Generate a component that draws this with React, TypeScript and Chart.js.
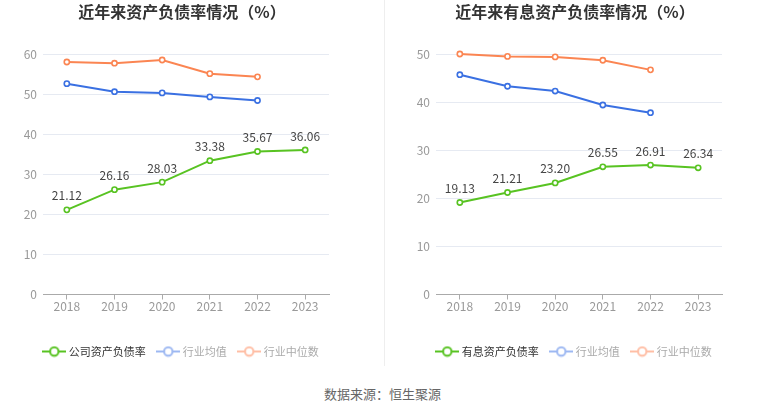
import { useEffect, useRef } from "react";
import { Chart, registerables } from "chart.js";

Chart.register(...registerables);

// 年份
const years = ["2018", "2019", "2020", "2021", "2022", "2023"];

// 左图：资产负债率（%）
const companyDebtRatio = [21.12, 26.16, 28.03, 33.38, 35.67, 36.06];
const debtRatioMean = [52.6, 50.6, 50.3, 49.3, 48.4, null];
const debtRatioMedian = [58.0, 57.7, 58.5, 55.1, 54.3, null];

// 右图：有息资产负债率（%）
const interestDebtRatio = [19.13, 21.21, 23.2, 26.55, 26.91, 26.34];
const interestRatioMean = [45.7, 43.3, 42.3, 39.4, 37.8, null];
const interestRatioMedian = [50.0, 49.5, 49.4, 48.7, 46.7, null];

const FONT = '"Noto Sans CJK SC", "Noto Sans", sans-serif';
const GREEN = "#58c322";
const BLUE = "#3a70e2";
const ORANGE = "#fb8552";

interface Series {
  label: string;
  data: (number | null)[];
  color: string;
  legendColor: string;
  textColor: string;
  showValues?: boolean;
}

// line + hollow circle, like the original legend marks
function legendIcon(color: string) {
  const c = document.createElement("canvas");
  c.width = 24;
  c.height = 12;
  const g = c.getContext("2d")!;
  g.strokeStyle = color;
  g.lineWidth = 2;
  g.beginPath();
  g.moveTo(0, 6);
  g.lineTo(24, 6);
  g.stroke();
  g.beginPath();
  g.arc(12, 6, 4.2, 0, Math.PI * 2);
  g.fillStyle = "#fff";
  g.fill();
  g.stroke();
  return c;
}

const valueLabels = {
  id: "valueLabels",
  afterDatasetsDraw(chart: Chart) {
    const ctx = chart.ctx;
    chart.data.datasets.forEach((ds: any, i) => {
      if (!ds.showValues) return;
      const meta = chart.getDatasetMeta(i);
      ctx.save();
      ctx.font = `12px ${FONT}`;
      ctx.fillStyle = "#444";
      ctx.textAlign = "center";
      ctx.textBaseline = "middle";
      meta.data.forEach((pt, j) => {
        const v = ds.data[j];
        if (v == null) return;
        ctx.fillText(v.toFixed(2), pt.x, pt.y - 14);
      });
      ctx.restore();
    });
  },
};

interface Props {
  title: string;
  series: Series[];
  yMax: number;
  yWidth: number;
  rightGap: number; // empty band right of the plot, so title/legend centre like the original
  left: number;
  width: number;
}

function RatioChart({ title, series, yMax, yWidth, rightGap, left, width }: Props) {
  const ref = useRef<HTMLCanvasElement>(null);

  useEffect(() => {
    if (!ref.current) return;
    const icons = series.map((s) => legendIcon(s.legendColor));
    const chart = new Chart(ref.current, {
      type: "line",
      data: {
        labels: years,
        datasets: series.map((s) => ({
          label: s.label,
          data: s.data,
          borderColor: s.color,
          backgroundColor: "#fff",
          borderWidth: 2,
          pointRadius: 2.6,
          pointBorderWidth: 1.6,
          pointBackgroundColor: "#fff",
          pointBorderColor: s.color,
          tension: 0,
          clip: false,
          showValues: !!s.showValues,
        })) as any,
      },
      options: {
        animation: false,
        responsive: true,
        maintainAspectRatio: false,
        layout: { padding: 0 },
        plugins: {
          title: {
            display: true,
            text: title,
            color: "#333",
            font: { family: FONT, size: 16, weight: "bold", lineHeight: 1.2 },
            padding: { top: 2, bottom: 32.8 },
          },
          legend: {
            position: "bottom",
            labels: {
              usePointStyle: true,
              pointStyleWidth: 18,
              boxHeight: 11,
              padding: 13.5,
              font: { family: FONT, size: 11 },
              generateLabels: () =>
                series.map((s, i) => ({
                  text: s.label,
                  pointStyle: icons[i],
                  fontColor: s.textColor,
                  datasetIndex: i,
                  hidden: false,
                  lineWidth: 0,
                  strokeStyle: "transparent",
                  fillStyle: "transparent",
                })) as any,
            },
          },
          tooltip: { enabled: false },
        },
        scales: {
          x: {
            offset: true,
            grid: { offset: false, drawOnChartArea: false, drawTicks: true, tickLength: 5, color: "#aaa" },
            border: { color: "#aaa" },
            ticks: { color: "#999", padding: 0, font: { family: FONT, size: 12 } },
            afterFit: (s: any) => {
              s.height = 38;
            },
          },
          y: {
            min: 0,
            max: yMax,
            ticks: { stepSize: 10, color: "#999", padding: 6, font: { family: FONT, size: 12 } },
            grid: { color: "#e6eaf2", drawTicks: false },
            border: { display: false },
            afterFit: (s: any) => {
              s.width = yWidth;
            },
          },
          gap: {
            type: "linear",
            position: "right",
            grid: { display: false },
            border: { display: false },
            ticks: { display: false },
            afterFit: (s: any) => {
              s.width = rightGap;
            },
          },
        },
      },
      plugins: [valueLabels],
    });
    return () => chart.destroy();
  }, [title, series, yMax, yWidth, rightGap]);

  return (
    <div style={{ position: "absolute", left, top: 0, width, height: 367 }}>
      <canvas ref={ref} role="img" aria-label={title} />
    </div>
  );
}

const leftSeries: Series[] = [
  { label: "公司资产负债率", data: companyDebtRatio, color: GREEN, legendColor: GREEN, textColor: "#333", showValues: true },
  { label: "行业均值", data: debtRatioMean, color: BLUE, legendColor: "#9db8f2", textColor: "#aaa" },
  { label: "行业中位数", data: debtRatioMedian, color: ORANGE, legendColor: "#ffbea5", textColor: "#aaa" },
];

const rightSeries: Series[] = [
  { label: "有息资产负债率", data: interestDebtRatio, color: GREEN, legendColor: GREEN, textColor: "#333", showValues: true },
  { label: "行业均值", data: interestRatioMean, color: BLUE, legendColor: "#9db8f2", textColor: "#aaa" },
  { label: "行业中位数", data: interestRatioMedian, color: ORANGE, legendColor: "#ffbea5", textColor: "#aaa" },
];

export default function App() {
  return (
    <div style={{ position: "absolute", left: 0, top: 0, width: 765, height: 413, background: "#fff", fontFamily: FONT }}>
      <RatioChart title="近年来资产负债率情况（%）" series={leftSeries} yMax={60} yWidth={43} rightGap={35} left={0} width={364} />
      <div style={{ position: "absolute", left: 384, top: 0, width: 1, height: 366, background: "#eeeeee" }} />
      <RatioChart title="近年来有息资产负债率情况（%）" series={rightSeries} yMax={50} yWidth={51} rightGap={43} left={385} width={380} />
      <div style={{ position: "absolute", left: 0, top: 385, width: 765, textAlign: "center", fontSize: 13, lineHeight: "18px", color: "#666" }}>
        数据来源：恒生聚源
      </div>
    </div>
  );
}
